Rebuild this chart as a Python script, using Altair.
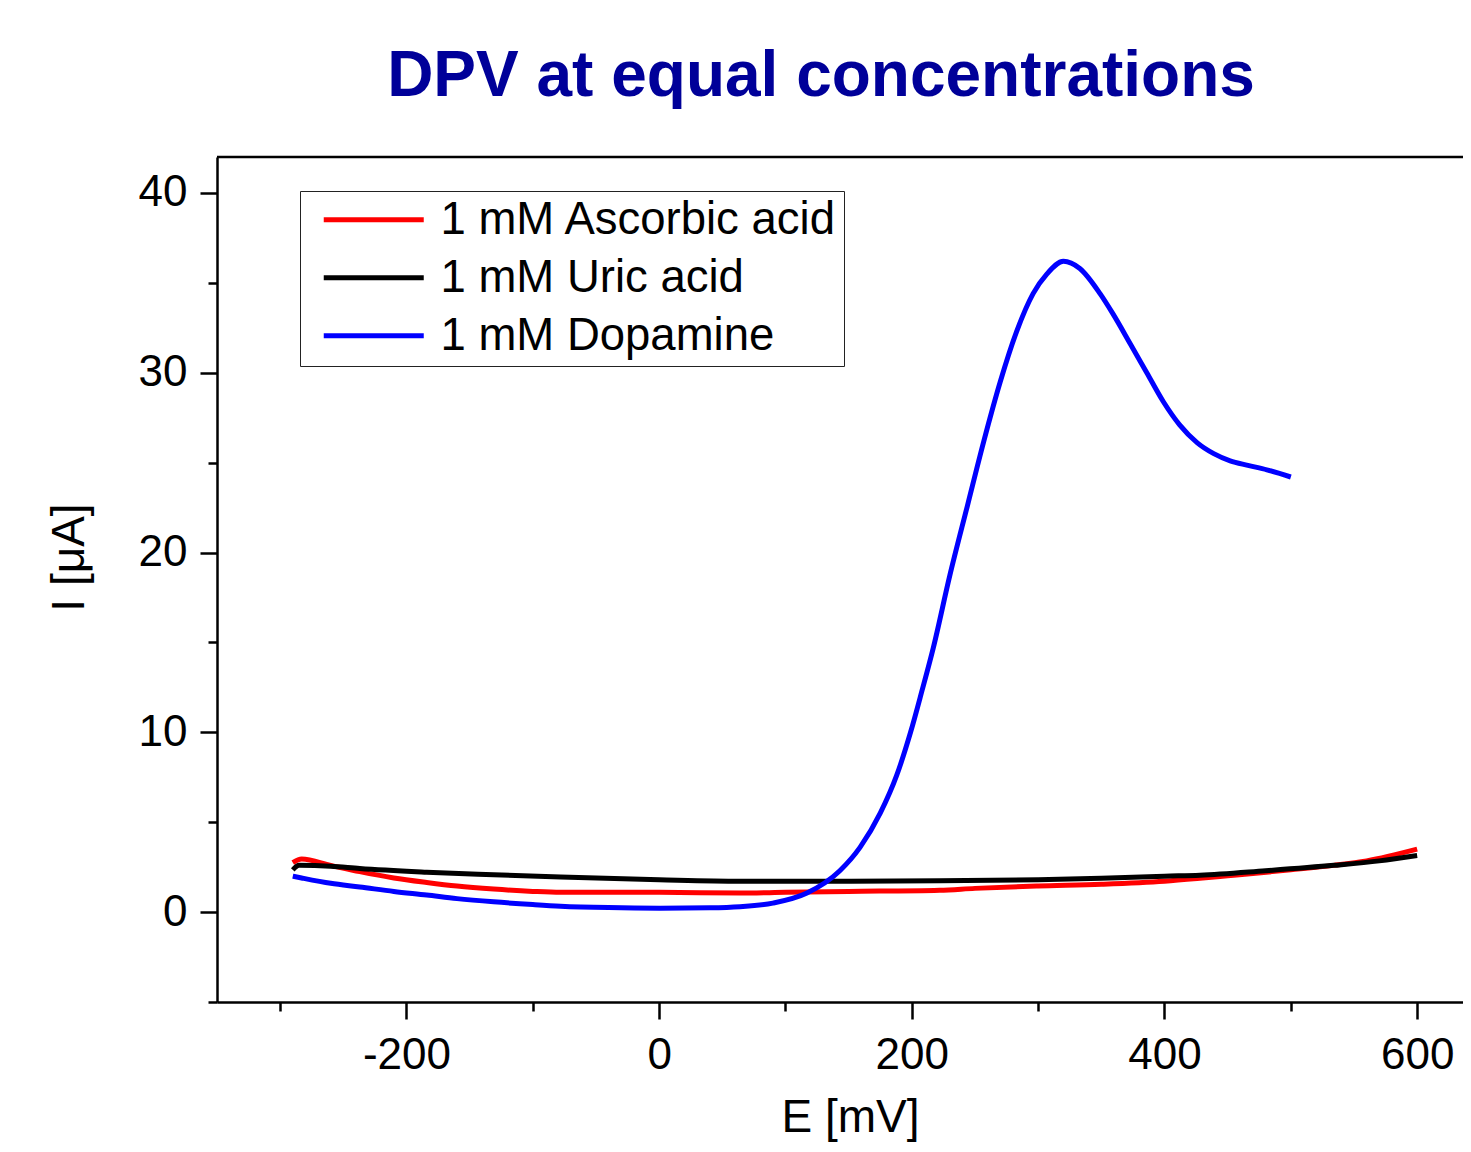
import altair as alt
import pandas as pd

# ---- data ----
series_names = ["1 mM Ascorbic acid", "1 mM Uric acid", "1 mM Dopamine"]
series_colors = ["#ff0000", "#000000", "#0000ff"]

aa_E = [-290, -283, -260, -237, -210, -184, -160, -131, -100, -78, -40, 0, 64, 100,
        150, 222, 250, 300, 350, 400, 428, 450, 500, 534, 560, 600]
aa_I = [2.75, 2.95, 2.6, 2.25, 1.9, 1.65, 1.45, 1.28, 1.15, 1.1, 1.1, 1.1, 1.06, 1.1,
        1.15, 1.22, 1.32, 1.45, 1.55, 1.72, 1.88, 2.02, 2.35, 2.6, 2.85, 3.5]

ua_E = [-290, -285, -260, -237, -184, -131, -78, 0, 64, 100, 150, 222, 300, 350,
        400, 428, 480, 534, 570, 600]
ua_I = [2.35, 2.6, 2.55, 2.42, 2.22, 2.08, 1.95, 1.8, 1.72, 1.72, 1.72, 1.74, 1.8, 1.88,
        2.0, 2.05, 2.3, 2.6, 2.85, 3.15]

da_E = [-290, -283, -260, -237, -210, -184, -160, -131, -100, -78, -40, 0, 40, 64, 90,
        117, 143, 159, 175, 188, 199, 208, 217, 230, 244, 257, 270, 283, 296, 307, 320,
        333, 349, 359, 373, 386, 399, 412, 426, 439, 452, 466, 481, 500]
da_I = [2.0, 1.9, 1.6, 1.4, 1.15, 0.95, 0.75, 0.57, 0.42, 0.33, 0.25, 0.22, 0.24, 0.3, 0.5,
        1.06, 2.3, 3.6, 5.5, 7.6, 10.0, 12.3, 14.7, 18.7, 22.6, 26.2, 29.5, 32.3, 34.4, 35.5, 36.2,
        35.8, 34.4, 33.3, 31.6, 30.0, 28.4, 27.1, 26.1, 25.5, 25.1, 24.85, 24.6, 24.2]

x_ticks = [-300, -200, -100, 0, 100, 200, 300, 400, 500, 600]
y_ticks = [-5, 0, 5, 10, 15, 20, 25, 30, 35, 40]

rows = []
for name, Es, Is in zip(series_names, [aa_E, ua_E, da_E], [aa_I, ua_I, da_I]):
    for i, (e, v) in enumerate(zip(Es, Is)):
        rows.append({"series": name, "E": e, "I": v, "order": i})
df = pd.DataFrame(rows)

W, H = 1246, 845
FONT = "Liberation Sans"

x_axis = alt.Axis(
    values=x_ticks,
    labelExpr="datum.value % 200 === 0 ? '' + datum.value : ''",
    tickSize={"condition": {"test": "datum.value % 200 === 0", "value": 17}, "value": 9},
    labelPadding=14,
    labelFontSize=44,
    labelFont=FONT,
    labelColor="black",
    title="E [mV]",
    titleFont=FONT,
    titleFontSize=46,
    titleFontWeight="normal",
    titleColor="black",
    titleBaseline="alphabetic",
    titleX=633,
    titleY=129,
    grid=False,
    domainColor="black",
    domainWidth=2.5,
    tickColor="black",
    tickWidth=2.5,
)

y_axis = alt.Axis(
    values=y_ticks,
    labelExpr="datum.value % 10 === 0 ? '' + datum.value : ''",
    tickSize={"condition": {"test": "datum.value % 10 === 0", "value": 17}, "value": 9},
    labelPadding=13,
    labelFontSize=44,
    labelFont=FONT,
    labelColor="black",
    title="I [μA]",
    titleFont=FONT,
    titleFontSize=46,
    titleFontWeight="normal",
    titleColor="black",
    titleBaseline="alphabetic",
    titleAngle=270,
    titleAlign="center",
    titleX=-134,
    titleY=400,
    grid=False,
    domainColor="black",
    domainWidth=2.5,
    tickColor="black",
    tickWidth=2.5,
)

lines = alt.Chart(df).mark_line(strokeWidth=5, interpolate="monotone", clip=True).encode(
    x=alt.X("E:Q", scale=alt.Scale(domain=[-350, 636.3], nice=False, zero=False), axis=x_axis),
    y=alt.Y("I:Q", scale=alt.Scale(domain=[-5, 42], nice=False, zero=False), axis=y_axis),
    color=alt.Color(
        "series:N",
        scale=alt.Scale(domain=series_names, range=series_colors),
        legend=alt.Legend(
            title=None,
            orient="none",
            legendX=83,
            legendY=34,
            symbolType="M-4,0H4",
            symbolSize=625,
            symbolStrokeWidth=5,
            symbolOffset=45,
            labelFontSize=45.5,
            labelFont=FONT,
            labelColor="black",
            labelLimit=1000,
            labelOffset=44,
            rowPadding=11,
            padding=6,
            strokeColor="#222222",
            fillColor="white",
        ),
    ),
    order="order:Q",
)

top_border = alt.Chart(pd.DataFrame({"k": [0]})).mark_rule(color="black", strokeWidth=2.5).encode(
    x=alt.value(0), x2=alt.value(W), y=alt.value(0)
)

chart = alt.layer(lines, top_border).properties(
    width=W,
    height=H,
    title=alt.TitleParams(
        "DPV at equal concentrations",
        font=FONT,
        fontSize=64,
        fontWeight="bold",
        color="#000099",
        anchor="middle",
        dx=-19,
        baseline="alphabetic",
        offset=-4,
    ),
    autosize=alt.AutoSizeParams(type="none"),
    padding={"left": 209, "top": 149, "right": 0, "bottom": 140},
).configure_view(stroke=None).configure_legend(strokeWidth=1.5).configure(background="white")

chart.save("out.html", embed_options={"renderer": "svg", "actions": False})
